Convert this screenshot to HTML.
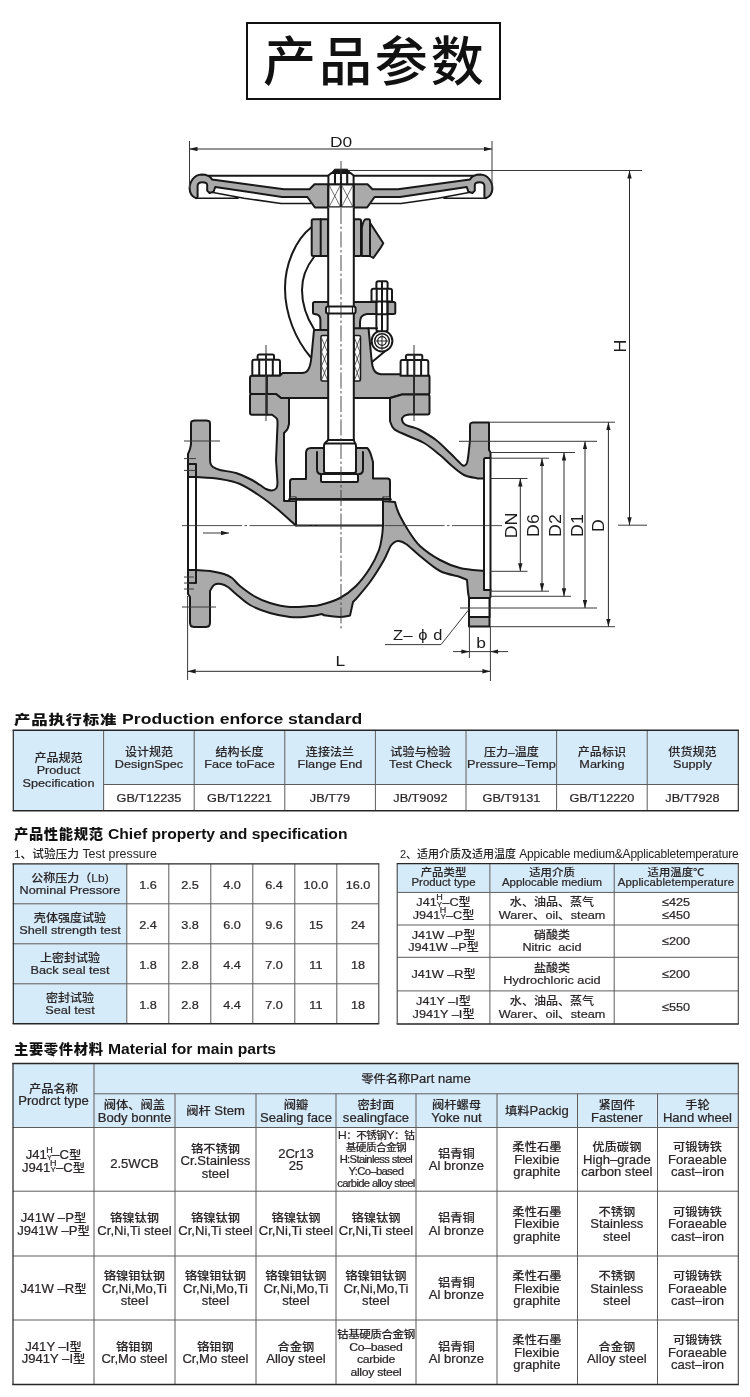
<!DOCTYPE html>
<html lang="zh-CN"><head><meta charset="utf-8"><title>产品参数</title>
<style>
html,body{margin:0;padding:0;background:#fff}
body{width:750px;height:1397px;position:relative;overflow:hidden;font-family:"Liberation Sans","Noto Sans CJK SC",sans-serif;color:#2b2728;font-size:12.5px}
.abs{position:absolute}
.h,.sub,#title{will-change:transform}
#title{left:246px;top:22px;width:251px;height:74px;border:2px solid #111;text-align:left;font-size:53px;line-height:78px;font-weight:500;color:#111;letter-spacing:2.9px;white-space:nowrap;text-indent:15px;box-sizing:content-box;overflow:hidden}
.h{left:14px;transform-origin:0 0;font-weight:bold;font-size:13.6px;line-height:16px;white-space:nowrap;color:#111}
.h b{font-weight:900;font-size:13px;letter-spacing:.6px}
.h2{font-size:15px}
.h2 b{font-size:13.7px;letter-spacing:.6px}
.sub{font-size:12px;line-height:14px;white-space:nowrap;color:#222}
table{will-change:transform;position:absolute;border-collapse:collapse;border-spacing:0;table-layout:fixed;transform:scaleX(1.085);transform-origin:0 0;font-size:11.7px}
td{-webkit-text-stroke:.22px #2b2728;padding:0;text-align:center;vertical-align:middle;border:0;line-height:12.5px;color:#2b2728;white-space:nowrap;overflow:visible}
td.b{background:#d6ebf9}
td i,.sub i{font-style:normal;font-weight:500;font-size:12px}
td i{font-size:11.1px;line-height:1px;-webkit-text-stroke:.1px #2b2728}
.hy{display:inline-block;position:relative;width:5.2px;height:8px}
.hy s{position:absolute;left:-1px;right:-1px;text-align:center;text-decoration:none;line-height:1}
.hy s:first-child{font-size:8.3px;bottom:4.7px}
.hy s:last-child{font-size:6.8px;bottom:-2.4px}
.t4{font-size:12.05px}
.t4 td{padding-top:2px}
.t4 td i{font-size:11.3px}
td.sm{font-size:10.4px;line-height:12px;letter-spacing:-.62px}
td.sm i{font-size:9.8px}
td.s2{font-size:11.3px;line-height:12.5px;letter-spacing:-.3px}
td.s2 i{font-size:10.6px;letter-spacing:-.35px}
td.sm i{letter-spacing:-.55px}
td.sm u{text-decoration:none;font-size:11.6px}
td.c1{line-height:12.4px}
.nar{letter-spacing:.1px}
td.h3{font-size:10.5px;line-height:9.8px}
td.h3 i{font-size:10.5px}
#svg{left:0;top:0}
</style></head><body>
<div id="title" class="abs">产品参数</div>
<svg id="svg" class="abs" width="750" height="1397" viewBox="0 0 750 1397">
<defs>
<marker id="ar" viewBox="0 0 8 4.6" refX="8" refY="2.3" markerWidth="8" markerHeight="4.6" orient="auto-start-reverse" markerUnits="userSpaceOnUse"><path d="M0,0.1 L8,2.3 L0,4.5 Z" fill="#1c1c1c"/></marker>
</defs>
<style>
.o{fill:#aaa;stroke:#181818;stroke-width:2;stroke-linejoin:round;stroke-linecap:round}
.w{fill:#fff;stroke:#181818;stroke-width:2;stroke-linejoin:round}
.l{fill:none;stroke:#181818;stroke-width:2;stroke-linejoin:round;stroke-linecap:round}
.l2{fill:none;stroke:#181818;stroke-width:1.5;stroke-linejoin:round;stroke-linecap:round}
.t{fill:none;stroke:#3a3a3a;stroke-width:1}
.x{fill:none;stroke:#333;stroke-width:.7}
.c{fill:none;stroke:#3a3a3a;stroke-width:.9;stroke-dasharray:16 2.5 2.5 2.5}
.d{fill:none;stroke:#2a2a2a;stroke-width:1;marker-start:url(#ar);marker-end:url(#ar)}
.lb{font-family:"Liberation Sans",sans-serif;font-size:15.5px;fill:#1c1c1c}
.lr{font-family:"Liberation Sans",sans-serif;font-size:16.5px;fill:#1c1c1c}
</style>
<!-- HANDWHEEL -->
<g id="hw">
<path class="l" d="M208,175.8H328M354,175.8H474"/>
<g id="hwL">
<path class="o" d="M328.2,184.3H314.5L309.5,189.3H284L212,179.4C210.500,177 209.500,176.200 208,175.800C206,174.800 204,174.600 201.600,174.600C194.500,175 189.600,181 189.600,188.200C189.600,193 192,196.500 196,198.200L197.600,197V186C197.600,183.500 199.500,182.200 202.400,182.200C205.500,182.200 207.200,183 207.200,185V190.600L209.600,193L213.600,191.800L215.200,187L282,197H307.400L314.900,207.500H328.200Z"/>
<path class="l2" d="M196,198.200H238M213,192.600L244,198.200L281,203.500H311"/>
</g>
<use href="#hwL" transform="translate(682,0) scale(-1,1)"/>
<rect class="w" x="328.4" y="184.300" width="25.200" height="23.200"/>
<path class="l" d="M341,184.300V207.500M328.400,207.500H353.600" style="stroke-width:2.2"/>
<path class="x" d="M329,185L340.500,207M340.500,185L329,207M341.500,185L353,207M353,185L341.500,207"/>
<!-- top nut -->
<path class="w" d="M328.400,184.300V175.500L331.500,173H350.500L353.600,175.500V184.300Z"/>
<path d="M331,173.500L334.500,169.200H347.500L351,173.500Z" fill="#181818" stroke="#181818" stroke-width="1"/>
<path class="l" d="M335,174V183.500M341,174V183.500M347.200,174V183.500" style="stroke-width:2.1"/>
</g>
<!-- YOKE ARCS -->
<path class="l" d="M311.700,227C295,240 285,265 285,288C285,315 296,340 310.500,357"/>
<path class="l" d="M314,257C306,267 302,278 302,290C302,305 307,318 314,329"/>
<!-- yoke bushings -->
<path class="o" d="M313.200,219.300H328V256H313.200Q311.700,256 311.700,254.500V220.800Q311.700,219.300 313.200,219.300Z"/>
<path class="l" d="M320.700,219.300V256"/>
<path class="o" d="M354,219.300H359.500Q361,219.300 361,220.800V254.500Q361,256 359.500,256H354Z"/>
<path class="o" d="M370,222.700L383.300,243.300L380,248.700L373.300,258L370,256Z"/>
<path class="o" d="M361.800,256V228C362.500,224 363.500,219.300 366,219.300H369Q370,219.300 370,221V256Z"/>
<!-- GLAND FLANGE -->
<path class="o" d="M314.500,302H393.500Q395.300,302 395.300,303.500V312.500Q395.300,314 393.500,314H367C362.500,314.500 360,317 360,322V337H320.400V320C320.400,317 319,315 316,314.300L314.500,314Q313,314 313,312.500V303.500Q313,302 314.500,302Z"/>
<!-- eye bolt -->
<path class="l" d="M389.500,347.500L372,362"/>
<circle class="w" cx="382" cy="341" r="10.400"/>
<circle class="l2" cx="382" cy="341" r="7.300"/>
<circle class="l2" cx="382" cy="341" r="4.300" style="stroke-width:1.2"/>
<path class="x" d="M376,341H388M382,335V350" style="stroke-width:1.1"/>
<rect class="w" x="376.400" y="281.200" width="11.200" height="50" rx="2"/>
<path class="l" d="M382,282V331"/>
<path class="w" d="M373.500,288.800H390Q392,288.800 392,290.800V301.500H371.500V290.800Q371.500,288.800 373.500,288.800Z"/>
<path class="l" d="M376.700,289V314M382,289V314M387.200,289V314"/>
<path class="w" d="M377.700,303V313.200H381V303ZM383,303V313.200H386.200V303Z" style="stroke:none"/>
<path class="l" d="M376.400,314.200H387.600"/>
<!-- BONNET -->
<path class="o" d="M314,330L311.500,356C311,362 310.400,366.700 308,370C306.500,372.500 304.500,373 302,373H282.700L280,375.500H266.700V394H276L281,398H390L402,394.500H414V375H401L400,374.200H381C376,374 373.5,371 372.5,366L371.6,360L368.5,328.200H341V330Z"/>
<path class="l" d="M368.500,328.200H377"/>
<!-- packing chambers -->
<path class="w" d="M322.500,335.500H328V381H322.500Q321,381 321,379.500V337Q321,335.500 322.500,335.500ZM354,335.500H359Q360.500,335.500 360.500,337V379.500Q360.500,381 359,381H354Z" style="stroke-width:1.5"/>
<path class="x" d="M321.500,338L327.500,352L321.500,366L327.500,380M327.500,338L321.500,352L327.500,366L321.500,380M354.500,338L360,352L354.500,366L360,380M360,338L354.500,352L360,366L354.500,380" style="stroke-width:.8"/>
<!-- flange bolt blocks -->
<path class="o" d="M252,375.700H266.700V394H252Q250,394 250,392V377.700Q250,375.700 252,375.700Z"/>
<path class="o" d="M252,394H266.700V414.700H252Q250,414.700 250,412.700V396Q250,394 252,394Z"/>
<path class="o" d="M414,375H427.500Q429.500,375 429.500,377V392.500Q429.500,394.500 427.500,394.500H414Z"/>
<path class="o" d="M414,394.500H427.500Q429.500,394.500 429.500,396.500V412.500Q429.500,414.500 427.500,414.500H414Z"/>
<!-- nuts -->
<g id="nutL">
<path class="w" d="M259,354.400H272.500Q274,354.400 274,355.900V359.700H257.600V355.900Q257.600,354.400 259,354.400Z"/>
<path class="w" d="M254,359.700H278Q280,359.700 280,361.700V375.400H252.300V361.700Q252.300,359.700 254,359.700Z"/>
<path class="l" d="M259.200,360V375M266,354.400V375M272.800,360V375"/>
</g>
<use href="#nutL" transform="translate(148.300,0.300)"/>
<!-- BODY -->
<path class="o" d="M252.0,394.0L276.0,394.0L281.0,398.0L289.0,398.0L289.0,424.0C288.8,424.8 288.3,427.5 287.5,429.0C286.7,430.5 284.6,432.3 284.0,433.0L284.0,501.0L296.0,501.0L296.0,525.6C295.3,525.0 295.3,524.9 292.0,522.0C288.7,519.1 281.3,512.3 276.0,508.0C270.7,503.7 266.0,500.0 260.0,496.0C254.0,492.0 246.7,486.8 240.0,484.0C233.3,481.2 227.3,480.2 220.0,479.0C212.7,477.8 200.0,477.3 196.0,477.0L188.0,477.0L188.0,454.0C188.3,453.2 189.5,450.7 190.0,449.0C190.5,447.3 190.8,444.8 191.0,444.0L191.0,424.0C191.1,423.6 191.0,422.1 191.5,421.5C192.0,420.9 193.6,420.8 194.0,420.6L207.0,420.6C207.4,420.8 209.0,420.9 209.5,421.5C210.0,422.1 209.9,423.6 210.0,424.0L210.0,458.0C210.1,458.9 210.0,462.0 210.5,463.5C211.0,465.0 211.4,465.9 213.0,467.0C214.6,468.1 216.2,469.0 220.0,470.0C223.8,471.0 231.0,471.5 236.0,473.0C241.0,474.5 246.0,477.0 250.0,479.0C254.0,481.0 257.3,483.3 260.0,485.0C262.7,486.7 264.0,488.1 266.0,489.0C268.0,489.9 270.2,490.7 272.0,490.5C273.8,490.3 275.6,489.2 276.5,488.0C277.4,486.8 277.3,483.8 277.5,483.0L276.0,460.0L277.5,425.0C277.4,424.0 277.9,420.7 277.0,419.0C276.1,417.3 272.8,415.4 272.0,414.7L266.7,414.7L266.7,394.0Z"/>
<path class="o" d="M390.0,398.0L402.0,394.5L414.0,394.5L414.0,414.5L409.0,414.5C408.2,414.8 405.2,415.1 404.0,416.0C402.8,416.9 401.8,418.6 402.0,420.0C402.2,421.4 403.3,423.3 405.0,424.5C406.7,425.7 409.5,426.1 412.0,427.0C414.5,427.9 416.0,427.8 420.0,430.0C424.0,432.2 431.0,436.2 436.0,440.0C441.0,443.8 446.3,449.5 450.0,453.0C453.7,456.5 455.8,458.9 458.0,461.0C460.2,463.1 461.6,465.0 463.0,465.5C464.4,466.0 465.7,465.2 466.5,464.0C467.3,462.8 467.4,462.0 468.0,458.0C468.6,454.0 469.7,443.0 470.0,440.0L470.0,426.0C470.1,425.6 470.0,424.0 470.5,423.4C471.0,422.8 472.6,422.6 473.0,422.4L489.0,422.4L489.0,450.0L490.5,452.5L490.5,458.0L486.0,458.0C485.7,458.1 484.6,458.0 484.3,458.5C484.0,459.0 484.1,460.6 484.0,461.0L484.0,478.4L477.0,478.4C474.8,477.8 468.2,477.1 464.0,475.0C459.8,472.9 456.0,469.3 452.0,466.0C448.0,462.7 444.7,458.8 440.0,455.0C435.3,451.2 429.7,446.3 424.0,443.0C418.3,439.7 411.0,437.3 406.0,435.0C401.0,432.7 396.7,431.3 394.0,429.0C391.3,426.7 390.7,422.3 390.0,421.0Z"/>
<path class="o" d="M188.0,570.0L196.0,570.0C198.3,570.2 205.3,570.3 210.0,571.0C214.7,571.7 220.3,572.8 224.0,574.0C227.7,575.2 229.3,576.0 232.0,578.0C234.7,580.0 236.3,583.0 240.0,586.0C243.7,589.0 249.0,593.2 254.0,596.0C259.0,598.8 264.0,601.2 270.0,603.0C276.0,604.8 283.3,606.5 290.0,607.0C296.7,607.5 305.0,606.3 310.0,606.0C315.0,605.7 315.0,606.3 320.0,605.0C325.0,603.7 334.0,601.2 340.0,598.0C346.0,594.8 351.0,591.0 356.0,586.0C361.0,581.0 366.2,574.0 370.0,568.0C373.8,562.0 377.0,555.3 379.0,550.0C381.0,544.7 381.3,540.1 382.0,536.0C382.7,531.9 382.8,527.3 383.0,525.6L383.0,501.0L395.0,502.0C395.3,503.2 396.2,506.7 397.0,509.0C397.8,511.3 398.2,512.5 400.0,516.0C401.8,519.5 404.7,525.0 408.0,530.0C411.3,535.0 414.7,541.0 420.0,546.0C425.3,551.0 433.3,556.3 440.0,560.0C446.7,563.7 452.7,566.2 460.0,568.0C467.3,569.8 480.0,570.5 484.0,571.0L484.0,590.0L490.5,590.0L490.5,597.0L489.5,598.0L489.5,626.4L469.0,626.4L469.0,598.0L468.0,592.0L467.0,580.0C465.8,579.5 464.5,578.5 460.0,577.0C455.5,575.5 446.7,574.5 440.0,571.0C433.3,567.5 425.7,560.5 420.0,556.0C414.3,551.5 409.7,546.5 406.0,544.0C402.3,541.5 400.5,540.8 398.0,541.0C395.5,541.2 393.3,542.3 391.0,545.5C388.7,548.7 387.5,553.9 384.0,560.0C380.5,566.1 374.7,575.5 370.0,582.0C365.3,588.5 358.3,596.2 356.0,599.0L353.0,602.0L350.0,615.6C348.3,615.8 344.0,617.0 340.0,617.0C336.0,617.0 329.0,616.1 326.0,615.6C323.0,615.1 322.7,614.3 322.0,614.0C319.0,614.5 309.3,616.5 304.0,617.0C298.7,617.5 295.7,617.7 290.0,617.0C284.3,616.3 276.7,615.0 270.0,613.0C263.3,611.0 255.7,608.2 250.0,605.0C244.3,601.8 239.7,597.0 236.0,594.0C232.3,591.0 230.5,588.7 228.0,587.0C225.5,585.3 223.3,584.3 221.0,584.0C218.7,583.7 215.8,583.8 214.0,585.0C212.2,586.2 210.7,590.0 210.0,591.0L210.0,623.0C209.8,623.5 209.7,625.3 209.0,626.0C208.3,626.7 206.5,626.8 206.0,627.0L194.0,627.0C193.5,626.8 191.7,626.7 191.0,626.0C190.3,625.3 190.2,623.5 190.0,623.0L190.0,597.0L188.0,594.0Z"/>

<rect class="w" x="469" y="598" width="20.500" height="19"/>
<!-- flange faces -->
<path class="l" d="M188,477V570M188,464H196V583H188M484,478.400V571M490.500,458V590"/>
<!-- DISC -->
<path class="o" d="M290,499V481.500Q290,479 292.500,479H306V453C306,449.500 308,448 311,448H367C369,449 370,452 371,455L373,462V478.500H387.500Q390,478.500 390,481V499Z"/>
<path class="l" d="M317,452V469C317,472 318.500,474 321,474M363,452V469C363,472 361.500,474 359,474"/>
<path class="w" d="M322.500,474H356.500Q358,474 358,475.500V480.500Q358,482 356.500,482H322.500Q321,482 321,480.500V475.500Q321,474 322.500,474Z"/>
<!-- seat -->
<path class="w" d="M296,499.500V525.600H383V499.500Z"/>
<rect class="w" x="290" y="497" width="6" height="4" style="stroke-width:1.2"/>
<rect class="w" x="383" y="497" width="7" height="4" style="stroke-width:1.2"/>
<path class="l" d="M289.500,499.300H390.500" style="stroke-width:2.400"/>
<!-- STEM -->
<path class="w" d="M328.200,207.500V440H353.800V207.500"/>
<path class="w" d="M328.200,440L325,443Q324,444 324,446V471Q324,473 326,473H354Q356,473 356,471V446Q356,444 355,443L353.800,440Z"/>
<path class="l" d="M325,443.500H355"/>
<!-- ring on stem -->
<rect class="w" x="326" y="306.500" width="29.600" height="7" rx="2" style="stroke-width:2"/>
<path class="l" d="M329,307V313M352.500,307V313" style="stroke-width:1.2"/>
<!-- CENTERLINES -->
<path class="c" d="M341,161V629"/>
<path class="c" d="M182,525.600H502" style="stroke-dasharray:60 2.5 2.5 2.5"/>
<path class="t" d="M266,345V421M414,345V421"/>
<path class="t" d="M184,441H220M184,458.600H196M184,470.400H196M184,577H194M184,583H194M184,589H194M182,607H216"/>
<path class="t" d="M203,533H229" style="marker-end:url(#ar)"/>
<!-- DIMENSIONS -->
<path class="t" d="M189.500,141V188M492,141V188"/>
<path class="d" d="M189.500,149H492"/>
<path class="t" d="M349,170.500H642M618,525.200H647"/>
<path class="d" d="M629.500,170.500V525.200"/>
<path class="t" d="M490,422.200H615M490,626.700H615M459,441.300H597M460,608H597M490,452.500H575M490,596.300H571M490,458.200H549M490,591.200H549M490,478.500H527.500M490,571.300H527.500"/>
<path class="d" d="M608.400,422.200V626.700"/>
<path class="d" d="M585,441.300V608"/>
<path class="d" d="M564,452.500V596.300"/>
<path class="d" d="M542,458.200V591.200"/>
<path class="d" d="M520.300,478.500V571.300"/>
<path class="t" d="M187.600,596V680M490.400,626V681M469.400,626V658"/>
<path class="d" d="M187.600,671.300H490.400"/>
<path class="t" d="M453,651.600H469.400M490.400,651.600H508"/>
<path class="t" d="M460.400,651.600H469.400" style="marker-end:url(#ar)"/>
<path class="t" d="M499.400,651.600H490.400" style="marker-end:url(#ar)"/>
<path class="t" d="M469.400,651.600H490.400"/>
<path class="t" d="M385,644.600H441L468.500,610"/>
<!-- LABELS -->
<text class="lb" transform="translate(341,146.500) scale(1.12,1)" text-anchor="middle">D0</text>
<text class="lb" transform="translate(340.300,666) scale(1.12,1)" text-anchor="middle">L</text>
<text class="lb" transform="translate(481,648) scale(1.12,1)" text-anchor="middle">b</text>
<text class="lb" transform="translate(393,640) scale(1.06,1)" style="letter-spacing:.5px">Z– ϕ d</text>
<text class="lr" transform="translate(625.5,346) rotate(-90) scale(1.08,1.04)" text-anchor="middle">H</text>
<text class="lr" transform="translate(516.5,525.5) rotate(-90) scale(1.08,1.04)" text-anchor="middle">DN</text>
<text class="lr" transform="translate(539,525.5) rotate(-90) scale(1.08,1.04)" text-anchor="middle">D6</text>
<text class="lr" transform="translate(561,525.5) rotate(-90) scale(1.08,1.04)" text-anchor="middle">D2</text>
<text class="lr" transform="translate(583,525.5) rotate(-90) scale(1.08,1.04)" text-anchor="middle">D1</text>
<text class="lr" transform="translate(603.5,525.5) rotate(-90) scale(1.08,1.04)" text-anchor="middle">D</text>

</svg>
<div class="abs h" style="top:711px;transform:scaleX(1.265);font-size:13.9px"><b>产品执行标准</b> Production enforce standard</div>
<table style="left:13px;top:730px;width:668.20px;">
<colgroup><col style="width:83.87px"><col style="width:82.95px"><col style="width:83.87px"><col style="width:82.95px"><col style="width:83.87px"><col style="width:83.87px"><col style="width:82.95px"><col style="width:83.87px"></colgroup>
<tr style="height:54px"><td class="b c1" rowspan="2"><i>产品规范</i><br>Product<br>Specification</td><td class="b" style="padding-top:2px;"><i>设计规范</i><br>DesignSpec</td><td class="b" style="padding-top:2px;"><i>结构长度</i><br>Face toFace</td><td class="b" style="padding-top:2px;"><i>连接法兰</i><br>Flange End</td><td class="b" style="padding-top:2px;"><i>试验与检验</i><br>Test Check</td><td class="b" style="padding-top:2px;"><i>压力–温度</i><br>Pressure–Temp</td><td class="b" style="padding-top:2px;"><i>产品标识</i><br>Marking</td><td class="b" style="padding-top:2px;"><i>供货规范</i><br>Supply</td></tr>
<tr style="height:27px"><td style="padding-top:2px;">GB/T12235</td><td style="padding-top:2px;">GB/T12221</td><td style="padding-top:2px;">JB/T79</td><td style="padding-top:2px;">JB/T9092</td><td style="padding-top:2px;">GB/T9131</td><td style="padding-top:2px;">GB/T12220</td><td style="padding-top:2px;">JB/T7928</td></tr>
</table>

<div class="abs h h2" style="top:825.5px;transform:scaleX(1.045)"><b>产品性能规范</b> Chief property and specification</div>
<div class="abs sub" style="left:13.5px;top:847px;font-size:12.4px"><i style="font-size:11.7px">1、试验压力</i> Test pressure</div>
<table style="left:13px;top:864px;width:337.33px;">
<colgroup><col style="width:105.07px"><col style="width:38.71px"><col style="width:38.71px"><col style="width:38.71px"><col style="width:38.71px"><col style="width:38.71px"><col style="width:38.71px"></colgroup>
<tr style="height:40px"><td class="b"><i>公称压力（Lb)</i><br>Nominal Pressore</td><td class="n" style="padding-top:3px;">1.6</td><td class="n" style="padding-top:3px;">2.5</td><td class="n" style="padding-top:3px;">4.0</td><td class="n" style="padding-top:3px;">6.4</td><td class="n" style="padding-top:3px;">10.0</td><td class="n" style="padding-top:3px;">16.0</td></tr>
<tr style="height:40px"><td class="b"><i>壳体强度试验</i><br>Shell strength test</td><td class="n" style="padding-top:3px;">2.4</td><td class="n" style="padding-top:3px;">3.8</td><td class="n" style="padding-top:3px;">6.0</td><td class="n" style="padding-top:3px;">9.6</td><td class="n" style="padding-top:3px;">15</td><td class="n" style="padding-top:3px;">24</td></tr>
<tr style="height:40px"><td class="b"><i>上密封试验</i><br>Back seal test</td><td class="n" style="padding-top:3px;">1.8</td><td class="n" style="padding-top:3px;">2.8</td><td class="n" style="padding-top:3px;">4.4</td><td class="n" style="padding-top:3px;">7.0</td><td class="n" style="padding-top:3px;">11</td><td class="n" style="padding-top:3px;">18</td></tr>
<tr style="height:40px"><td class="b"><i>密封试验</i><br>Seal test</td><td class="n" style="padding-top:3px;">1.8</td><td class="n" style="padding-top:3px;">2.8</td><td class="n" style="padding-top:3px;">4.4</td><td class="n" style="padding-top:3px;">7.0</td><td class="n" style="padding-top:3px;">11</td><td class="n" style="padding-top:3px;">18</td></tr>
</table>

<div class="abs sub" style="left:400px;top:847px;font-size:12px;letter-spacing:-.2px"><i style="font-size:11px;letter-spacing:0">2、适用介质及适用温度</i> Appicable medium&amp;Applicabletemperature</div>
<table style="left:397px;top:864px;width:314.29px;">
<colgroup><col style="width:85.71px"><col style="width:114.29px"><col style="width:114.29px"></colgroup>
<tr style="height:28px"><td class="b h3"><i>产品类型</i><br>Product type</td><td class="b h3"><i>适用介质</i><br>Applocable medium</td><td class="b h3"><i>适用温度℃</i><br><span class="nar">Applicabletemperature</span></td></tr>
<tr style="height:33px"><td class="m">J41<span class="hy"><s>H</s><s>Y</s></span>–C<i>型</i><br>J941<span class="hy"><s>H</s><s>Y</s></span>–C<i>型</i></td><td class="m"><i>水、油品、蒸气</i><br>Warer、oil、steam</td><td class="m">≤425<br>≤450</td></tr>
<tr style="height:32px"><td class="m">J41W –P<i>型</i><br>J941W –P<i>型</i></td><td class="m"><i>硝酸类</i><br>Nitric&nbsp; acid</td><td class="m">≤200</td></tr>
<tr style="height:34px"><td class="m">J41W –R<i>型</i></td><td class="m"><i>盐酸类</i><br>Hydrochloric acid</td><td class="m">≤200</td></tr>
<tr style="height:33px"><td class="m">J41Y –I<i>型</i><br>J941Y –I<i>型</i></td><td class="m"><i>水、油品、蒸气</i><br>Warer、oil、steam</td><td class="m">≤550</td></tr>
</table>

<div class="abs h h2" style="top:1041px;transform:scaleX(1.045)"><b>主要零件材料</b> Material for main parts</div>
<table class="t4" style="left:13px;top:1063px;width:668.20px;">
<colgroup><col style="width:74.65px"><col style="width:74.65px"><col style="width:74.65px"><col style="width:73.73px"><col style="width:73.73px"><col style="width:74.65px"><col style="width:73.73px"><col style="width:73.73px"><col style="width:74.65px"></colgroup>
<tr style="height:31px"><td class="b" rowspan="2" style="padding-top:0;"><i>产品名称</i><br>Prodrct type</td><td class="b" colspan="8"><i>零件名称</i>Part name</td></tr>
<tr style="height:33px"><td class="b"><i>阀体、阀盖</i><br>Body bonnte</td><td class="b"><i>阀杆</i> Stem</td><td class="b"><i>阀瓣</i><br>Sealing face</td><td class="b"><i>密封面</i><br>sealingface</td><td class="b"><i>阀杆螺母</i><br>Yoke nut</td><td class="b"><i>填料</i>Packig</td><td class="b"><i>紧固件</i><br>Fastener</td><td class="b"><i>手轮</i><br>Hand wheel</td></tr>
<tr style="height:64px"><td style="padding-top:5px;">J41<span class="hy"><s>H</s><s>Y</s></span>–C<i>型</i><br>J941<span class="hy"><s>H</s><s>Y</s></span>–C<i>型</i></td><td style="padding-top:11px;">2.5WCB</td><td style="padding-top:5px;"><i>铬不锈钢</i><br>Cr.Stainless<br>steel</td><td>2Cr13<br>25</td><td class="sm"><i><u>H</u>：不锈钢<u>Y</u>：钴</i><br><i>基硬质合金钢</i><br>H:Stainless steel<br>Y:Co–based<br>carbide alloy steel</td><td><i>铝青铜</i><br>Al bronze</td><td><i>柔性石墨</i><br>Flexibie<br>graphite</td><td><i>优质碳钢</i><br>High–grade<br>carbon steel</td><td><i>可锻铸铁</i><br>Foraeable<br>cast–iron</td></tr>
<tr style="height:65px"><td>J41W –P<i>型</i><br>J941W –P<i>型</i></td><td><i>铬镍钛钢</i><br>Cr,Ni,Ti steel</td><td><i>铬镍钛钢</i><br>Cr,Ni,Ti steel</td><td><i>铬镍钛钢</i><br>Cr,Ni,Ti steel</td><td><i>铬镍钛钢</i><br>Cr,Ni,Ti steel</td><td><i>铝青铜</i><br>Al bronze</td><td><i>柔性石墨</i><br>Flexibie<br>graphite</td><td><i>不锈钢</i><br>Stainless<br>steel</td><td><i>可锻铸铁</i><br>Foraeable<br>cast–iron</td></tr>
<tr style="height:64px"><td>J41W –R<i>型</i></td><td><i>铬镍钼钛钢</i><br>Cr,Ni,Mo,Ti<br>steel</td><td><i>铬镍钼钛钢</i><br>Cr,Ni,Mo,Ti<br>steel</td><td><i>铬镍钼钛钢</i><br>Cr,Ni,Mo,Ti<br>steel</td><td><i>铬镍钼钛钢</i><br>Cr,Ni,Mo,Ti<br>steel</td><td><i>铝青铜</i><br>Al bronze</td><td><i>柔性石墨</i><br>Flexibie<br>graphite</td><td><i>不锈钢</i><br>Stainless<br>steel</td><td><i>可锻铸铁</i><br>Foraeable<br>cast–iron</td></tr>
<tr style="height:64px"><td>J41Y –I<i>型</i><br>J941Y –I<i>型</i></td><td><i>铬钼钢</i><br>Cr,Mo steel</td><td><i>铬钼钢</i><br>Cr,Mo steel</td><td><i>合金钢</i><br>Alloy steel</td><td class="s2"><i>钴基硬质合金钢</i><br>Co–based<br>carbide<br>alloy steel</td><td><i>铝青铜</i><br>Al bronze</td><td><i>柔性石墨</i><br>Flexibie<br>graphite</td><td><i>合金钢</i><br>Alloy steel</td><td><i>可锻铸铁</i><br>Foraeable<br>cast–iron</td></tr>
</table>

<svg class="abs" style="left:0;top:0;pointer-events:none" width="750" height="1397" viewBox="0 0 750 1397" fill="none">
<path d="M103.6,730.3L103.6,810.8" stroke="#5c5c5c" stroke-width="1"/>
<path d="M194.2,730.3L194.2,810.8" stroke="#5c5c5c" stroke-width="1"/>
<path d="M284.8,730.3L284.8,810.8" stroke="#5c5c5c" stroke-width="1"/>
<path d="M375.4,730.3L375.4,810.8" stroke="#5c5c5c" stroke-width="1"/>
<path d="M466,730.3L466,810.8" stroke="#5c5c5c" stroke-width="1"/>
<path d="M556.6,730.3L556.6,810.8" stroke="#5c5c5c" stroke-width="1"/>
<path d="M647.2,730.3L647.2,810.8" stroke="#5c5c5c" stroke-width="1"/>
<path d="M103.6,784.5L738.4,784.5" stroke="#5c5c5c" stroke-width="1"/>
<path d="M12.6,730.3L738.9,730.3" stroke="#262626" stroke-width="1.4"/>
<path d="M12.6,810.8L738.9,810.8" stroke="#262626" stroke-width="1.5"/>
<path d="M13.3,730L13.3,811" stroke="#262626" stroke-width="1.2"/>
<path d="M738.3,730L738.3,811" stroke="#262626" stroke-width="1.1"/>
<path d="M126.8,863.8L126.8,1023.8" stroke="#5c5c5c" stroke-width="1"/>
<path d="M168.8,863.8L168.8,1023.8" stroke="#5c5c5c" stroke-width="1"/>
<path d="M210.8,863.8L210.8,1023.8" stroke="#5c5c5c" stroke-width="1"/>
<path d="M252.8,863.8L252.8,1023.8" stroke="#5c5c5c" stroke-width="1"/>
<path d="M294.8,863.8L294.8,1023.8" stroke="#5c5c5c" stroke-width="1"/>
<path d="M336.8,863.8L336.8,1023.8" stroke="#5c5c5c" stroke-width="1"/>
<path d="M12.8,903.8L378.8,903.8" stroke="#5c5c5c" stroke-width="1"/>
<path d="M12.8,943.8L378.8,943.8" stroke="#5c5c5c" stroke-width="1"/>
<path d="M12.8,983.8L378.8,983.8" stroke="#5c5c5c" stroke-width="1"/>
<path d="M12.6,863.8L379.2,863.8" stroke="#262626" stroke-width="1.3"/>
<path d="M12.6,1023.8L379.2,1023.8" stroke="#262626" stroke-width="1.6"/>
<path d="M13.3,863.5L13.3,1024" stroke="#262626" stroke-width="1.2"/>
<path d="M378.8,863.5L378.8,1024" stroke="#444" stroke-width="1.1"/>
<path d="M489.9,863.6L489.9,1024" stroke="#5c5c5c" stroke-width="1"/>
<path d="M614.2,863.6L614.2,1024" stroke="#5c5c5c" stroke-width="1"/>
<path d="M397.2,892.4L738.3,892.4" stroke="#5c5c5c" stroke-width="1"/>
<path d="M397.2,925L738.3,925" stroke="#5c5c5c" stroke-width="1"/>
<path d="M397.2,957.3L738.3,957.3" stroke="#5c5c5c" stroke-width="1"/>
<path d="M397.2,990.9L738.3,990.9" stroke="#5c5c5c" stroke-width="1"/>
<path d="M396.7,863.7L738.8,863.7" stroke="#262626" stroke-width="1.3"/>
<path d="M396.7,1024L738.8,1024" stroke="#262626" stroke-width="1.6"/>
<path d="M397.2,863.5L397.2,1024" stroke="#444" stroke-width="1.1"/>
<path d="M738.3,863.5L738.3,1024" stroke="#444" stroke-width="1.1"/>
<path d="M94,1063.5L94,1384" stroke="#5c5c5c" stroke-width="1"/>
<path d="M175,1093.8L175,1384" stroke="#5c5c5c" stroke-width="1"/>
<path d="M256,1093.8L256,1384" stroke="#5c5c5c" stroke-width="1"/>
<path d="M336,1093.8L336,1384" stroke="#5c5c5c" stroke-width="1"/>
<path d="M416,1093.8L416,1384" stroke="#5c5c5c" stroke-width="1"/>
<path d="M497,1093.8L497,1384" stroke="#5c5c5c" stroke-width="1"/>
<path d="M577.5,1093.8L577.5,1384" stroke="#5c5c5c" stroke-width="1"/>
<path d="M657.5,1093.8L657.5,1384" stroke="#5c5c5c" stroke-width="1"/>
<path d="M94,1093.8L738.3,1093.8" stroke="#5c5c5c" stroke-width="1"/>
<path d="M12.8,1127.5L738.3,1127.5" stroke="#5c5c5c" stroke-width="1"/>
<path d="M12.8,1191.2L738.3,1191.2" stroke="#5c5c5c" stroke-width="1"/>
<path d="M12.8,1256L738.3,1256" stroke="#5c5c5c" stroke-width="1"/>
<path d="M12.8,1320L738.3,1320" stroke="#5c5c5c" stroke-width="1"/>
<path d="M12.3,1063.5L738.8,1063.5" stroke="#262626" stroke-width="1.5"/>
<path d="M12.3,1384.5L738.8,1384.5" stroke="#262626" stroke-width="1.6"/>
<path d="M13,1063.5L13,1384.5" stroke="#262626" stroke-width="1.2"/>
<path d="M738.3,1063.5L738.3,1384.5" stroke="#444" stroke-width="1.1"/>
</svg>
</body></html>
